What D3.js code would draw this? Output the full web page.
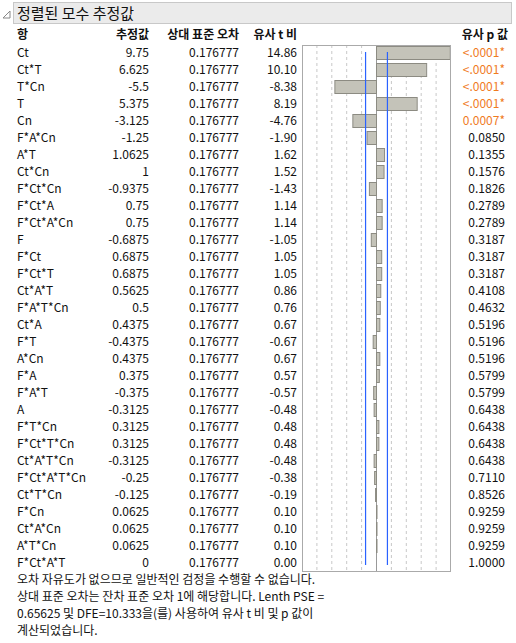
<!DOCTYPE html>
<html><head><meta charset="utf-8">
<script src="https://cdn.jsdelivr.net/npm/d3@7"></script>
<style>
body{margin:0;background:#fff;font-family:"Noto Sans CJK KR","Noto Sans",sans-serif;font-size:12px;}
text{fill:#111}
</style></head><body>
<script>
const terms = ["Ct","Ct*T","T*Cn","T","Cn","F*A*Cn","A*T","Ct*Cn","F*Ct*Cn","F*Ct*A","F*Ct*A*Cn","F","F*Ct","F*Ct*T","Ct*A*T","F*A*T*Cn","Ct*A","F*T","A*Cn","F*A","F*A*T","A","F*T*Cn","F*Ct*T*Cn","Ct*A*T*Cn","F*Ct*A*T*Cn","Ct*T*Cn","F*Cn","Ct*A*Cn","A*T*Cn","F*Ct*A*T"];
const estimates = ["9.75","6.625","-5.5","5.375","-3.125","-1.25","1.0625","1","-0.9375","0.75","0.75","-0.6875","0.6875","0.6875","0.5625","0.5","0.4375","-0.4375","0.4375","0.375","-0.375","-0.3125","0.3125","0.3125","-0.3125","-0.25","-0.125","0.0625","0.0625","0.0625","0"];
const tRatio = [14.86,10.10,-8.38,8.19,-4.76,-1.90,1.62,1.52,-1.43,1.14,1.14,-1.05,1.05,1.05,0.86,0.76,0.67,-0.67,0.67,0.57,-0.57,-0.48,0.48,0.48,-0.48,-0.38,-0.19,0.10,0.10,0.10,0.00];
const pValues = ["<.0001*","<.0001*","<.0001*","<.0001*","0.0007*","0.0850","0.1355","0.1576","0.1826","0.2789","0.2789","0.3187","0.3187","0.3187","0.4108","0.4632","0.5196","0.5196","0.5196","0.5799","0.5799","0.6438","0.6438","0.6438","0.6438","0.7110","0.8526","0.9259","0.9259","0.9259","1.0000"];
const gridTicks = [-12,-9,-6,-3,3,6,9,12];
const critLines = [-2.2,2.2];
const notes = ["오차 자유도가 없으므로 일반적인 검정을 수행할 수 없습니다.","상대 표준 오차는 잔차 표준 오차 1에 해당합니다. Lenth PSE =","0.65625 및 DFE=10.333을(를) 사용하여 유사 t 비 및 p 값이","계산되었습니다."];

const W=516,H=643;
const svg=d3.select("body").append("svg").attr("width",W).attr("height",H);

// title bar
svg.append("rect").attr("x",13.5).attr("y",2.5).attr("width",498).attr("height",21).attr("fill","#ebebeb").attr("stroke","#c8c8c8");
svg.append("path").attr("d","M3,18 L10,11 L10,18 Z").attr("fill","none").attr("stroke","#888");
svg.append("text").attr("x",17).attr("y",19).attr("font-size",15).text("정렬된 모수 추정값");

const y=d3.scaleBand().domain(terms).range([44.5,571.5]);
const x=d3.scaleLinear().domain([-15,15]).range([302,451]);

// headers
const hy=39;
[["항",17,"start"],["추정값",149,"end"],["상대 표준 오차",239,"end"],["유사 t 비",297,"end"],["유사 p 값",508,"end"]]
 .forEach(([t,xx,a])=>svg.append("text").attr("x",xx).attr("y",hy).attr("text-anchor",a).attr("font-weight","bold").text(t));

const rows=svg.append("g").selectAll("g").data(terms).join("g")
  .attr("transform",d=>`translate(0,${y(d)+y.bandwidth()/2+4})`);
rows.append("text").attr("x",17).text(d=>d);
rows.append("text").attr("x",149).attr("text-anchor","end").text((d,i)=>estimates[i]);
rows.append("text").attr("x",239).attr("text-anchor","end").text("0.176777");
rows.append("text").attr("x",297).attr("text-anchor","end").text((d,i)=>tRatio[i].toFixed(2));
rows.append("text").attr("x",505).attr("text-anchor","end")
  .style("fill",(d,i)=>pValues[i].endsWith("*")?"#f07b1f":"#111").text((d,i)=>pValues[i]);

// chart
const chart=svg.append("g");
chart.selectAll("line.grid").data(gridTicks).join("line")
  .attr("x1",d=>x(d)).attr("x2",d=>x(d)).attr("y1",45).attr("y2",571)
  .attr("stroke","#c8c8c8").attr("stroke-dasharray","3,3");
chart.append("line").attr("x1",x(0)).attr("x2",x(0)).attr("y1",45).attr("y2",571).attr("stroke","#999");
chart.selectAll("rect.bar").data(tRatio).join("rect")
  .attr("x",d=>x(Math.min(0,d))).attr("width",d=>Math.abs(x(d)-x(0)))
  .attr("y",(d,i)=>y(terms[i])+2).attr("height",y.bandwidth()-4)
  .attr("fill","#c4c3b9").attr("stroke","#8c8b82");
chart.selectAll("line.crit").data(critLines).join("line")
  .attr("x1",d=>x(d)).attr("x2",d=>x(d)).attr("y1",52).attr("y2",565)
  .attr("stroke","#2a62ff").attr("stroke-width",1.2);
chart.append("rect").attr("x",302.5).attr("y",45.5).attr("width",148).attr("height",526)
  .attr("fill","none").attr("stroke","#aaa");

svg.selectAll("text.note").data(notes).join("text").attr("x",17).attr("y",(d,i)=>584+i*17).text(d=>d);
</script>
</body></html>
